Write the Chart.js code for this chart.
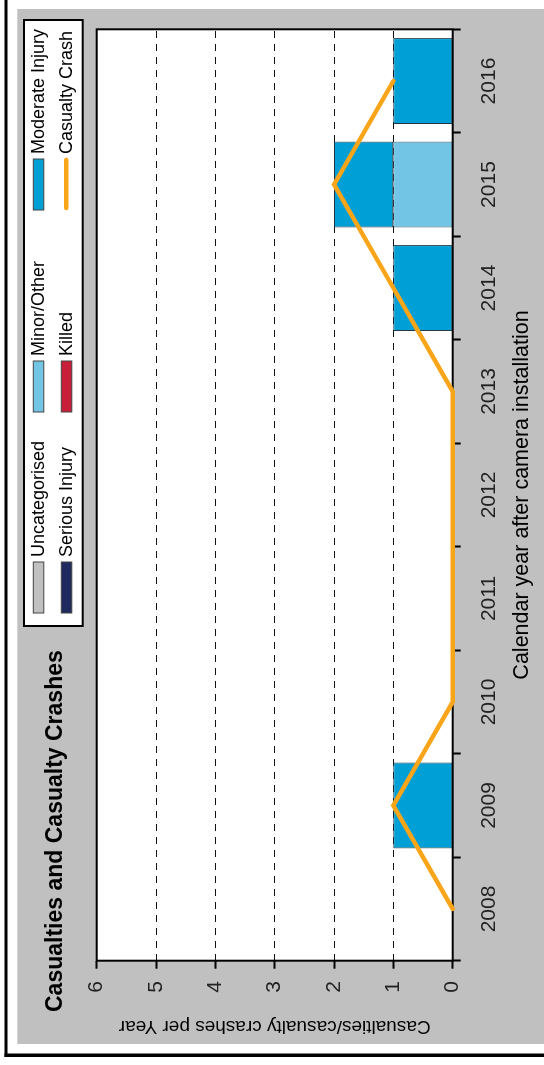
<!DOCTYPE html>
<html>
<head>
<meta charset="utf-8">
<script src="https://cdn.jsdelivr.net/npm/chart.js@4/dist/chart.umd.min.js"></script>
<style>
html, body { margin: 0; padding: 0; background: #fff; overflow: hidden; }
/* chart is laid out landscape, then turned a quarter to the left */
#wrap { position: absolute; left: 0; top: 0; width: 1065px; height: 544px;
        transform-origin: 0 0; transform: translate(0, 1065px) rotate(-90deg); }
</style>
</head>
<body>
<div id="wrap"><canvas id="c" width="1065" height="544"></canvas></div>
<script>
// data
const years = ['2008', '2009', '2010', '2011', '2012', '2013', '2014', '2015', '2016'];
const uncategorised  = [0, 0, 0, 0, 0, 0, 0, 0, 0];
const minorOther     = [0, 0, 0, 0, 0, 0, 0, 1, 0];
const moderateInjury = [0, 1, 0, 0, 0, 0, 1, 1, 1];
const seriousInjury  = [0, 0, 0, 0, 0, 0, 0, 0, 0];
const killed         = [0, 0, 0, 0, 0, 0, 0, 0, 0];
const casualtyCrash  = [0, 1, 0, 0, 0, 0, 1, 2, 1];
const yMin = 0, yMax = 6;

const narrow = "'Liberation Sans Narrow', 'Arial Narrow', 'Liberation Sans', Arial, sans-serif";
const sans = "'Liberation Sans', Arial, sans-serif";

function bar(label, data, color, edge) {
    return {
        type: 'bar',
        label: label,
        data: data,
        backgroundColor: color,
        borderColor: edge,
        borderWidth: function(c) { return c.raw ? 1 : 0; },
        borderSkipped: false,
        categoryPercentage: 1,
        barPercentage: 0.83,
        order: 1
    };
}

var datasets = [
    bar('Uncategorised', uncategorised, '#c0c0c0', '#555555'),
    bar('Minor/Other', minorOther, '#72c5e5', '#3a5a68'),
    bar('Moderate Injury', moderateInjury, '#009fd6', '#1d3440'),
    bar('Serious Injury', seriousInjury, '#1f2a5e', '#111111'),
    bar('Killed', killed, '#c8203a', '#333333'),
    {
        type: 'line',
        label: 'Casualty Crash',
        data: casualtyCrash,
        borderColor: '#f9a51a',
        backgroundColor: '#f9a51a',
        borderWidth: 4.5,
        borderCapStyle: 'round',
        borderJoinStyle: 'miter',
        pointRadius: 0,
        tension: 0,
        stack: 'crash',
        order: 0,
        clip: 5
    }
];

// legend layout: two rows of three
var legendRows = [
    ['Uncategorised', 'Minor/Other', 'Moderate Injury'],
    ['Serious Injury', 'Killed', 'Casualty Crash']
];

var decor = {
    id: 'decor',
    beforeDraw: function(chart) {
        var ctx = chart.ctx, a = chart.chartArea;
        ctx.save();
        ctx.fillStyle = '#ffffff';
        ctx.fillRect(0, 0, chart.width, chart.height);
        ctx.fillStyle = '#c0c0c0';
        ctx.fillRect(21, 17.3, 1035, 530);
        ctx.fillStyle = '#000000';
        ctx.fillRect(8, 4.5, 1100, 3);
        ctx.fillRect(8, 4.5, 3.5, 600);
        ctx.fillStyle = '#ffffff';
        ctx.fillRect(a.left, a.top, a.right - a.left, a.bottom - a.top);
        ctx.restore();
    },
    beforeDatasetsDraw: function(chart) {
        var ctx = chart.ctx, a = chart.chartArea;
        ctx.save();
        ctx.strokeStyle = '#000000';
        ctx.lineWidth = 2;
        ctx.strokeRect(a.left, a.top, a.right - a.left, a.bottom - a.top);
        ctx.restore();
    },
    afterDraw: function(chart) {
        var ctx = chart.ctx;
        ctx.save();
        // title
        ctx.fillStyle = '#000000';
        ctx.font = 'bold 23px ' + sans;
        ctx.textAlign = 'left';
        ctx.textBaseline = 'alphabetic';
        ctx.fillText('Casualties and Casualty Crashes', 53, 61.5);

        // legend box
        ctx.fillStyle = '#ffffff';
        ctx.fillRect(439, 24, 606, 58.7);
        ctx.strokeStyle = '#000000';
        ctx.lineWidth = 2;
        ctx.strokeRect(439, 24, 606, 58.7);

        var colX = [452, 653, 855], rowY = [38.3, 66.3];
        ctx.font = '18px ' + sans;
        ctx.textBaseline = 'middle';
        legendRows.forEach(function(row, r) {
            row.forEach(function(name, k) {
                var ds = chart.data.datasets.find(function(d) { return d.label === name; });
                var x = colX[k], y = rowY[r];
                if (ds.type === 'line') {
                    ctx.strokeStyle = ds.borderColor;
                    ctx.lineWidth = 4.5;
                    ctx.lineCap = 'round';
                    ctx.beginPath();
                    ctx.moveTo(x + 2, y);
                    ctx.lineTo(x + 50, y);
                    ctx.stroke();
                } else {
                    ctx.fillStyle = ds.backgroundColor;
                    ctx.fillRect(x, y - 5, 51, 10.5);
                    ctx.strokeStyle = '#444444';
                    ctx.lineWidth = 1;
                    ctx.strokeRect(x, y - 5, 51, 10.5);
                }
                ctx.fillStyle = '#000000';
                ctx.fillText(name, x + 56, y + 1);
            });
        });
        ctx.restore();
    }
};

new Chart(document.getElementById('c'), {
    data: { labels: years, datasets: datasets },
    options: {
        responsive: false,
        animation: false,
        devicePixelRatio: 1,
        layout: { padding: { left: 0, right: 29.3, top: 96.7, bottom: 0 } },
        plugins: { legend: { display: false }, title: { display: false }, tooltip: { enabled: false } },
        scales: {
            x: {
                stacked: true,
                offset: true,
                grid: {
                    offset: true,
                    drawOnChartArea: false,
                    tickLength: 8,
                    tickColor: '#000000',
                    tickWidth: 2
                },
                border: { display: false },
                ticks: { font: { family: narrow, size: 21 }, color: '#222222', padding: 16.2, maxRotation: 0 },
                title: {
                    display: true,
                    text: 'Calendar year after camera installation',
                    font: { family: sans, size: 21.5 },
                    color: '#000000',
                    padding: { top: 0, bottom: 8.6 }
                },
                afterFit: function(s) { s.height = 544 - 452.7; }
            },
            y: {
                stacked: true,
                min: yMin,
                max: yMax,
                grid: {
                    color: function(c) { return (c.tick && c.tick.value > yMin && c.tick.value < yMax) ? '#111111' : 'rgba(0,0,0,0)'; },
                    lineWidth: 1,
                    tickBorderDash: [1, 0],
                    tickLength: 8,
                    tickColor: '#000000',
                    tickWidth: 2
                },
                border: { display: false, dash: [7, 6] },
                ticks: { stepSize: 1, font: { family: narrow, size: 21 }, color: '#222222', padding: 12.3 },
                title: {
                    display: true,
                    text: 'Casualties/casualty crashes per Year',
                    font: { family: sans, size: 19 },
                    color: '#000000',
                    padding: { top: 27.6, bottom: 0 }
                },
                afterFit: function(s) { s.width = 104.3; }
            }
        }
    },
    plugins: [decor]
});
</script>
</body>
</html>
